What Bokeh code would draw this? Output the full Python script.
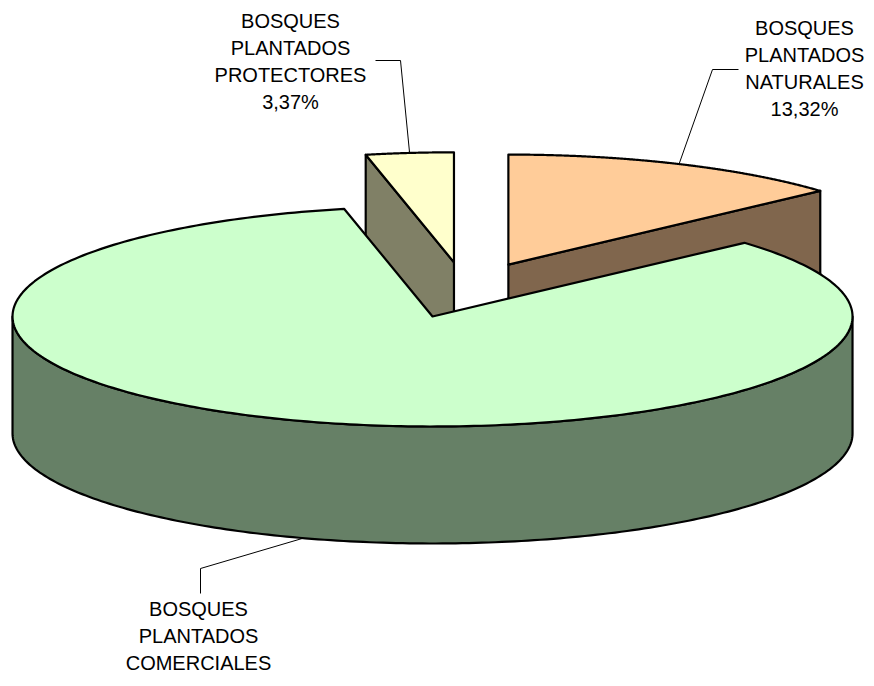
import numpy as np
from bokeh.plotting import figure
from bokeh.models import Range1d, ColumnDataSource
from bokeh.core.properties import value
from bokeh.embed import file_html
from bokeh.resources import INLINE

# ---------------- data ----------------
categories = ["BOSQUES PLANTADOS NATURALES",
              "BOSQUES PLANTADOS COMERCIALES",
              "BOSQUES PLANTADOS PROTECTORES"]
values = [13.32, 83.31, 3.37]
pct_labels = ["13,32%", "", "3,37%"]   # comerciales % falls outside the picture

# ---------------- style ----------------
top_colors = ["#FFCC99", "#CCFFCC", "#FFFFCC"]
side_colors = ["#80664D", "#668066", "#808066"]

W, H = 866, 678
CX, CY = 464.7, 289.5        # pie centre (px)
A, B, DEPTH = 420.0, 110.0, 117.0
EXPLODE = 0.253

# label layout (px): text centre x, first line y, leader elbow, leader end
label_x = [804, 198, 290]
label_y0 = [27, 608, 20]
line_gap = 27
elbow = [(712, 69), (200, 568), (400, 60)]
lead_end = [(738, 69), (200, 593), (375, 60)]

p = figure(width=W, height=H, x_range=Range1d(0, W), y_range=Range1d(H, 0),
           output_backend="svg", toolbar_location=None, min_border=0,
           x_axis_location=None, y_axis_location=None)
p.grid.visible = False
p.outline_line_color = None
p.background_fill_color = "white"
p.border_fill_color = "white"


def rim(cx, cy, t, dz=0.0):
    r = np.radians(t)
    return cx + A * np.cos(r), cy - B * np.sin(r) + dz


total = float(sum(values))
start = 90.0
slices = []
for i, v in enumerate(values):
    span = v / total * 360.0
    t0, t1 = start, start - span
    mid = 0.5 * (t0 + t1)
    mr = np.radians(mid)
    cx = CX + EXPLODE * A * np.cos(mr)
    cy = CY - EXPLODE * B * np.sin(mr)
    slices.append(dict(i=i, t0=t0, t1=t1, mid=mid, cx=cx, cy=cy))
    start = t1

xs, ys, fills = [], [], []


def add(px, py, c):
    xs.append(list(map(float, px)))
    ys.append(list(map(float, py)))
    fills.append(c)


# back slices first
order = sorted(slices, key=lambda s: -np.sin(np.radians(s["mid"])))
for s in order:
    i, t0, t1, cx, cy = s["i"], s["t0"], s["t1"], s["cx"], s["cy"]
    # radial faces
    for t, vis in ((t0, np.cos(np.radians(t0)) < -1e-6), (t1, np.cos(np.radians(t1)) > 1e-6)):
        if vis:
            rx, ry = rim(cx, cy, t)
            add([cx, rx, rx, cx], [cy, ry, ry + DEPTH, cy + DEPTH], side_colors[i])
    # outer curved side (front-facing part: sin t < 0)
    for k in range(-2, 3):
        lo, hi = -180.0 + 360 * k, 0.0 + 360 * k
        a, b = max(lo, t1), min(hi, t0)
        if b - a > 1e-6:
            ts = np.linspace(b, a, 200)
            tx, ty = rim(cx, cy, ts)
            px = np.concatenate([tx, tx[::-1]])
            py = np.concatenate([ty, (ty + DEPTH)[::-1]])
            add(px, py, side_colors[i])
    # top face
    ts = np.linspace(t0, t1, 300)
    tx, ty = rim(cx, cy, ts)
    add(np.concatenate([[cx], tx]), np.concatenate([[cy], ty]), top_colors[i])

p.patches(xs="xs", ys="ys", fill_color="fc",
          source=ColumnDataSource(dict(xs=xs, ys=ys, fc=fills)),
          line_color="black", line_width=2.2, line_join="round")

# leader lines
lx, ly = [], []
for s in slices:
    i = s["i"]
    front = np.sin(np.radians(s["mid"])) < 0
    ax, ay = rim(s["cx"], s["cy"], s["mid"], DEPTH if front else 0.0)
    lx.append([float(ax), elbow[i][0], lead_end[i][0]])
    ly.append([float(ay), elbow[i][1], lead_end[i][1]])
p.multi_line(xs=lx, ys=ly, line_color="black", line_width=1)

# labels
tx, ty, tt = [], [], []
for i, name in enumerate(categories):
    lines = name.split(" ") + ([pct_labels[i]] if pct_labels[i] else [])
    for j, ln in enumerate(lines):
        tx.append(label_x[i])
        ty.append(label_y0[i] + j * line_gap)
        tt.append(ln)
p.text(x=tx, y=ty, text=tt, text_align="center", text_baseline="alphabetic",
       text_font=value("Liberation Sans"), text_font_size="20px", text_color="black")

open("out.html", "w").write(file_html(p, INLINE))
